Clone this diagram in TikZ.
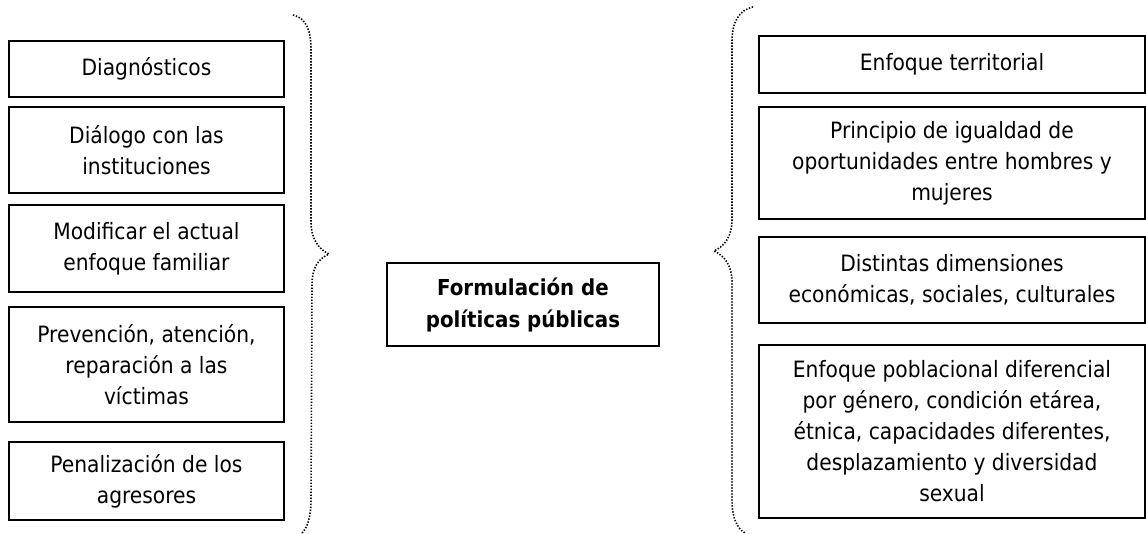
\documentclass[tikz,border=0pt]{standalone}
\usepackage{fontspec}
\setmainfont{DejaVu Sans Condensed}
\usepackage{tikz}
\usetikzlibrary{positioning}

\begin{document}
\begin{tikzpicture}[
            x=1pt, y=-1pt,
            item/.style={rectangle, draw, line width=1.3pt, align=center, inner sep=2pt, font=\fontsize{22.5}{31}\selectfont},
            leftitem/.style={item, minimum width=275pt},
            rightitem/.style={item, minimum width=386pt},
            central/.style={item, minimum width=272pt, minimum height=83pt, font=\fontsize{22}{32}\selectfont\bfseries},
            brace/.style={line width=1.6pt, dash pattern=on 1.4pt off 1.6pt}
        ]
        \useasboundingbox (0,0) rectangle (1146,534);

        % Left column
        \node[leftitem, minimum height=56pt] (diag) at (146.5,69) {Diagnósticos};
        \node[leftitem, minimum height=86pt] (dialogo) at (146.5,150) {Diálogo con las\\instituciones};
        \node[leftitem, minimum height=87pt] (enfoque) at (146.5,248.5) {Modificar el actual\\enfoque familiar};
        \node[leftitem, minimum height=115pt] (prevencion) at (146.5,364.5) {Prevención, atención,\\reparación a las\\víctimas};
        \node[leftitem, minimum height=78pt] (penal) at (146.5,481) {Penalización de los\\agresores};

        % Central node
        \node[central] (formulacion) at (523,304.5) {Formulación de\\políticas públicas};

        % Right column
        \node[rightitem, minimum height=57pt] (territorial) at (952,64.5) {Enfoque territorial};
        \node[rightitem, minimum height=112pt] (igualdad) at (952,163) {Principio de igualdad de\\oportunidades entre hombres y\\mujeres};
        \node[rightitem, minimum height=86pt] (dimensiones) at (952,280) {Distintas dimensiones\\económicas, sociales, culturales};
        \node[rightitem, minimum height=173pt] (poblacional) at (952,431.5) {Enfoque poblacional diferencial\\por género, condición etárea,\\étnica, capacidades diferentes,\\desplazamiento y diversidad\\sexual};

        % Braces (dotted)
        \coordinate (ltip) at (329,254);
        \coordinate (rtip) at (714,251);
        \draw[brace] (293,15) .. controls (306,18) and (311,30) .. (311,50) -- (311,222)
            .. controls (311,238) and (318,249) .. (ltip)
            .. controls (318,259) and (312,268) .. (312,285) -- (311,500)
            .. controls (311,518) and (307,528) .. (302,533);
        \draw[brace] (753,7) .. controls (739,10) and (732,22) .. (732,42) -- (732,220)
            .. controls (732,236) and (725,246) .. (rtip)
            .. controls (725,256) and (732,266) .. (732,282) -- (732,500)
            .. controls (732,518) and (737,528) .. (745,533);

    \end{tikzpicture}
\end{document}
